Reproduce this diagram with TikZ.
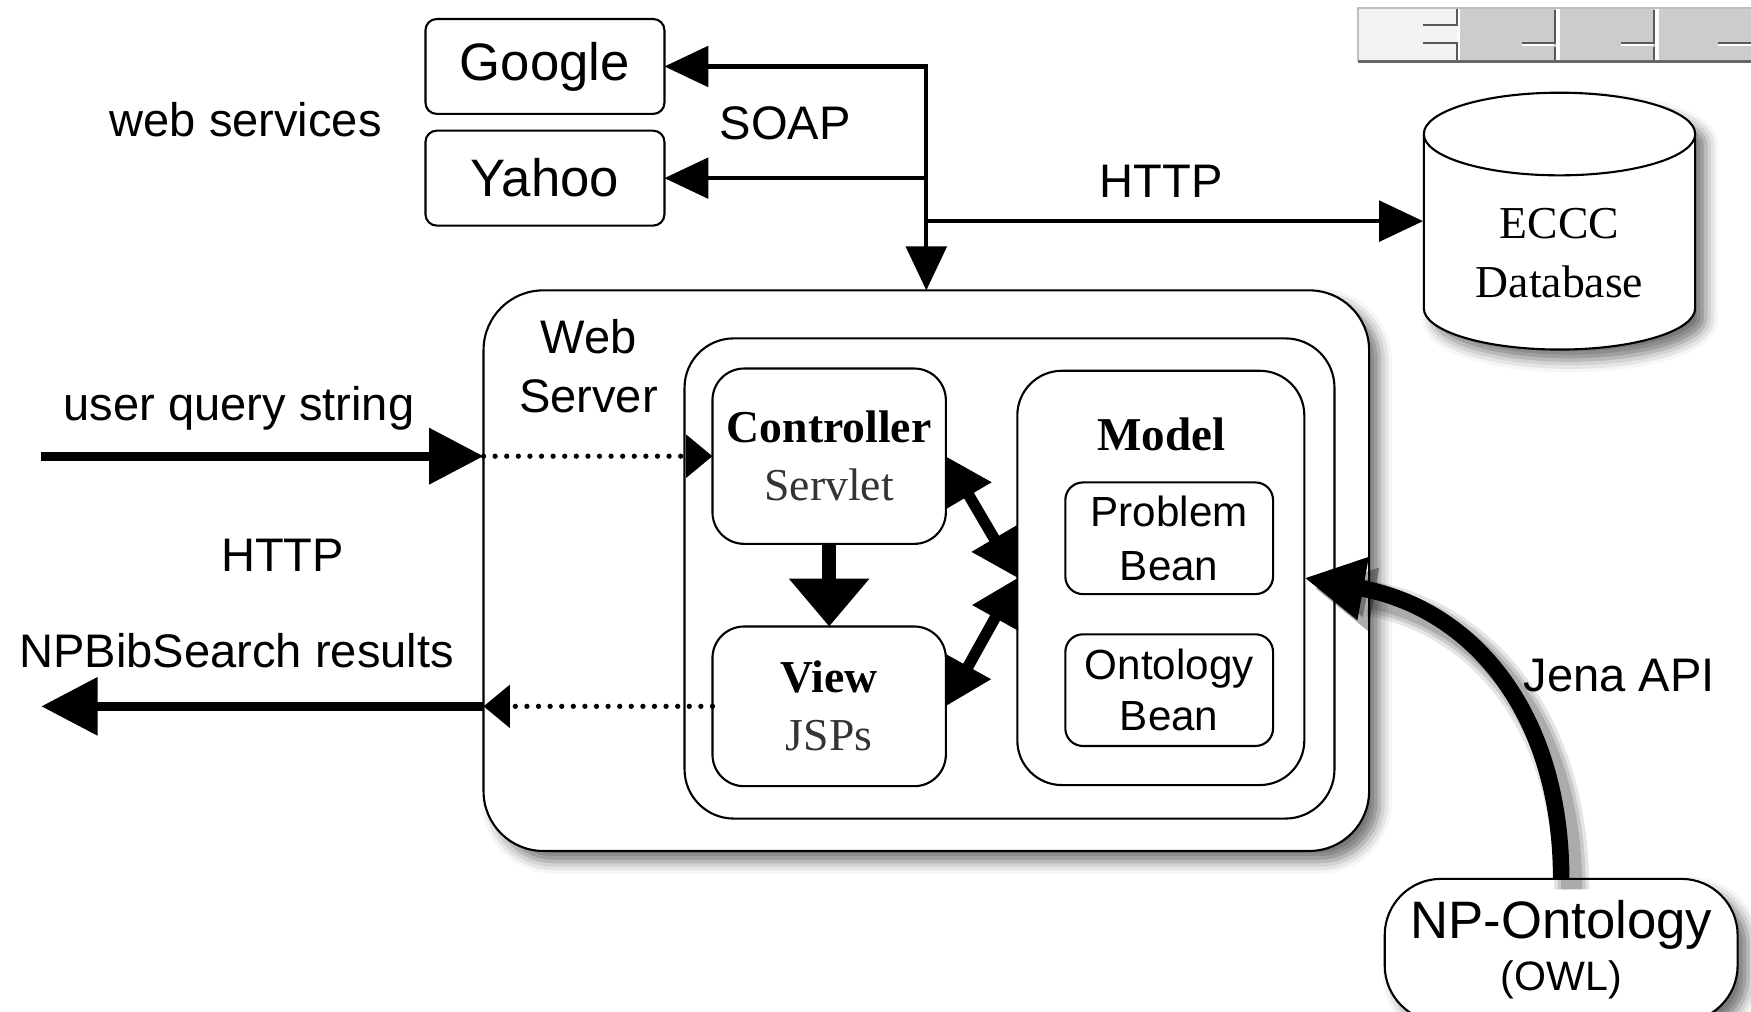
\documentclass[tikz,border=0pt]{standalone}
\usepackage{fontspec}
\setmainfont{Liberation Sans}
\newfontfamily\seriff{Liberation Serif}
\usetikzlibrary{arrows.meta,fit,calc,shadows.blur}

\begin{document}
\begin{tikzpicture}[x=0.0111671cm, y=-0.0111671cm,
  box/.style={draw, line width=0.6pt, fill=white, inner sep=0pt, outer sep=0pt},
  sh/.style={blur shadow={shadow xshift=3pt, shadow yshift=-3pt, shadow blur radius=3.5pt, shadow opacity=55}},
  txt/.style={inner sep=0pt, font=\fontsize{13.4}{16}\selectfont},
  intext/.style={label={[inner sep=0pt, align=center, font=#1]center:}},
  soapline/.style={line width=1.2pt},
  tipS/.tip={Triangle[length=12.5pt,width=11.5pt,fill=black]},
  tipB/.tip={Triangle[length=15.5pt,width=15.5pt,fill=black]},
  tipD/.tip={Triangle[length=7.5pt,width=12pt,fill=black]},
  tipM/.tip={Triangle[length=13pt,width=14pt,fill=black]},
  bigarrow/.style={line width=2.5pt, -tipB},
  dots/.style={line width=1.5pt, dash pattern=on 0pt off 3.3pt, line cap=round, -tipD},
  dbl/.style={line width=3.2pt, tipM-tipM},
]
\useasboundingbox (0,0) rectangle (1568,906);

% ---- top-right strip
\fill[black!5] (1216,7) rectangle (1305,55);
\fill[black!20] (1306,7) rectangle (1393,55);
\fill[black!20] (1395,7) rectangle (1482,55);
\fill[black!20] (1484,7) rectangle (1568,55);
\draw[black!25, line width=0.5pt] (1216,55) -- (1216,7) -- (1568,7);
\draw[black!60, line width=0.8pt] (1216,55) -- (1568,55);
\draw[white, line width=0.8pt] (1306.5,8) -- (1306.5,54) (1395.5,8) -- (1395.5,54) (1484.5,8) -- (1484.5,54);
\draw[black!65, line width=0.6pt] (1304.5,8) -- (1304.5,22.4) -- (1274,22.4) (1274,38.2) -- (1304.5,38.2) -- (1304.5,54);
\foreach \xr in {1392.5,1481.5} {
  \draw[black!65, line width=0.6pt] (\xr,9) -- (\xr,38.2) -- (\xr-30,38.2) (\xr,42) -- (\xr,54);
  \draw[white, line width=0.6pt] (\xr-30,40) -- (\xr-1,40);
}
\draw[black!65, line width=0.6pt] (1538,38.2) -- (1568,38.2);
\draw[white, line width=0.6pt] (1538,40) -- (1568,40);

% ---- web services
\node[box, rounded corners=3.2pt, fit={(381,17) (595,102)}] (google) {};
\node[inner sep=0pt, font=\fontsize{15}{18}\selectfont] (googlet) at (google.center) {Google};
\node[box, rounded corners=3.2pt, fit={(381,117) (595,202)}] (yahoo) {};
\node[inner sep=0pt, font=\fontsize{15}{18}\selectfont] (yahoot) at (yahoo.center) {Yahoo};
\node[txt] (websvc) at (220,107) {web services};
\node[txt] (soap) at (703,110) {SOAP};
\node[txt] (http1) at (1040,162) {HTTP};

% ---- database cylinder
\node[inner sep=0pt, fit={(1275,83) (1518,313)}] (db) {};
\path[draw, fill=white, line width=0.6pt, sh]
  (1275,120) -- (1275,276) arc[start angle=180, end angle=0, x radius=121.5, y radius=37]
  -- (1518,120) arc[start angle=0, end angle=-180, x radius=121.5, y radius=37] -- cycle;
\draw[line width=0.6pt] (1275,120) arc[start angle=180, end angle=0, x radius=121.5, y radius=37];
\node[inner sep=0pt, align=center, font=\seriff\fontsize{13}{16.8}\selectfont] (dbt) at (1396.5,227) {ECCC\\Database};

% ---- web server
\node[box, sh, rounded corners=17pt, fit={(433,260) (1226,762)}] (ws) {};
\node[txt, align=center, font=\fontsize{13.4}{16.8}\selectfont] (wslbl) at (527,328) {Web\\Server};
\node[box, rounded corners=14pt, fit={(613,303) (1195,733)}] (mvc) {};
\node[box, rounded corners=9pt, fit={(638,330) (847,487)}] (ctrl) {};
\node[inner sep=0pt, align=center, font=\seriff\fontsize{13}{16.5}\selectfont] (ctrlt) at (ctrl.center) {\textbf{Controller}\\\textcolor{black!80}{Servlet}};
\node[box, rounded corners=9pt, fit={(638,561) (847,704)}] (view) {};
\node[inner sep=0pt, align=center, font=\seriff\fontsize{13}{16.5}\selectfont] (viewt) at (view.center) {\textbf{View}\\\textcolor{black!80}{JSPs}};
\node[box, rounded corners=12.7pt, fit={(911,332) (1168,703)}] (model) {};
\node[inner sep=0pt, font=\seriff\bfseries\fontsize{13.4}{16}\selectfont] (modellbl) at (1040,389) {Model};
\node[box, rounded corners=5pt, fit={(954,432) (1140,532)}] (pb) {};
\node[inner sep=0pt, align=center, font=\fontsize{12}{15.2}\selectfont] (pbt) at (pb.center) {Problem\\Bean};
\node[box, rounded corners=5pt, fit={(954,568) (1140,668)}] (ob) {};
\node[inner sep=0pt, align=center, font=\fontsize{12}{14.5}\selectfont] (obt) at (ob.center) {Ontology\\Bean};

% ---- NP-Ontology
\node[box, sh, rounded corners=16pt, fit={(1240,787) (1556,915)}] (npo) {};
\node[inner sep=0pt, font=\fontsize{15}{18}\selectfont] (npot) at (1398,828) {NP-Ontology};
\node[inner sep=0pt, font=\fontsize{11.7}{14}\selectfont] (owl) at (1398,877) {(OWL)};
\node[txt] (jena) at (1450,605) {Jena API};

% ---- left labels
\node[txt] (uqs) at (214,366) {user query string};
\node[txt] (http2) at (253,497) {HTTP};
\node[txt] (npb) at (212,583) {NPBibSearch results};

% ---- connectors
\draw[soapline, tipS-tipS] (google.east) -| (ws.north);
\draw[soapline, -tipS] (yahoo.east -| ws.north) -- (yahoo.east);
\draw[soapline, -tipS] (db.west -| ws.north) -- (db.west);

\path (ctrl.west) ++(-601,0) coordinate (uq);
\path (view.west) ++(-601,0) coordinate (res);
\draw[bigarrow] (uq) -- (uq -| ws.west);
\draw[dots] (uq -| ws.west) -- (ctrl.west);
\draw[dots] (view.west) -- (view.west -| ws.west);
\draw[line width=2.5pt, -{Triangle[length=16pt,width=16pt,fill=black]}] (view.west -| ws.west) -- (res);

\draw[line width=3.8pt, -{Triangle[length=13.6pt,width=22pt,fill=black]}] (ctrl.south) -- (view.north);
\draw[dbl] (ctrl.east) -- (model.west);
\draw[dbl] (view.east) -- (model.west);

% Jena arc shadow
\foreach \w/\o in {10pt/0.10, 8pt/0.12, 6pt/0.15} {
  \draw[transform canvas={xshift=3pt,yshift=-3pt}, black, opacity=\o, line width=\w, -{Triangle[length=17pt,width=17pt]}]
    (npo.north) .. controls (1398,640) and (1320,545) .. (model.east);
}
\draw[line width=4.7pt, -{Triangle[length=17pt,width=17pt,fill=black]}] (npo.north) .. controls (1398,640) and (1320,545) .. (model.east);
\end{tikzpicture}
\end{document}
